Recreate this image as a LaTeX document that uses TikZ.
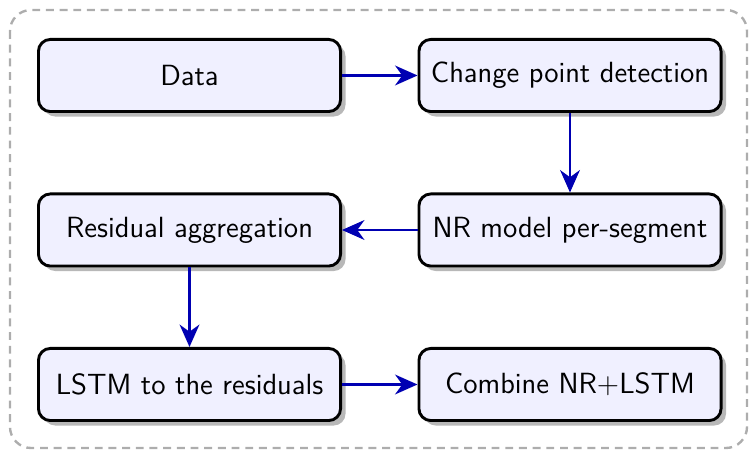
\documentclass[tikz,border=0pt]{standalone}
\usetikzlibrary{arrows.meta,shadows}
\begin{document}
\begin{tikzpicture}[x=0.38pt,y=-0.38pt,
  stepbox/.style={draw=black, line width=1.1pt, fill=blue!6, rounded corners=4.5pt,
    minimum width=114.8pt, minimum height=27.4pt, inner sep=2pt,
    font=\sffamily\fontsize{11.1}{13}\selectfont,
    drop shadow={shadow xshift=1.9pt, shadow yshift=-1.9pt, fill=black!28, opacity=1}},
  flow/.style={draw=blue!70!black, line width=1pt, -{Stealth[length=8.5pt,width=7.5pt,inset=2.7pt]}},
  frame/.style={draw=black!32, line width=0.9pt, dash pattern=on 3pt off 2.2pt, rounded corners=8pt}]
  \useasboundingbox (0,0) rectangle (749,450);
  \draw[frame] (10,10) rectangle (747,448);
  \node[stepbox] (data) at (189.5,75.5) {Data};
  \node[stepbox] (cpd) at (570,75.5) {Change point detection};
  \node[stepbox] (nr) at (570,230) {NR model per-segment};
  \node[stepbox] (res) at (189.5,230) {Residual aggregation};
  \node[stepbox] (lstm) at (189.5,384.5) {LSTM to the residuals};
  \node[stepbox] (comb) at (570,384.5) {Combine NR+LSTM};
  \draw[flow] (data) -- (cpd);
  \draw[flow] (cpd) -- (nr);
  \draw[flow] (nr) -- (res);
  \draw[flow] (res) -- (lstm);
  \draw[flow] (lstm) -- (comb);
\end{tikzpicture}
\end{document}
